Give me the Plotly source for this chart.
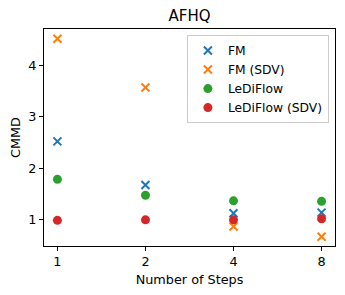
import plotly.graph_objects as go

steps = [1, 2, 4, 8]
fm = [2.52, 1.67, 1.12, 1.13]
fm_sdv = [4.52, 3.57, 0.86, 0.66]
lediflow = [1.78, 1.47, 1.36, 1.35]
lediflow_sdv = [0.98, 0.99, 0.99, 1.01]

series = [
    ("FM", fm, "#1f77b4", "x-thin"),
    ("FM (SDV)", fm_sdv, "#ff7f0e", "x-thin"),
    ("LeDiFlow", lediflow, "#2ca02c", "circle"),
    ("LeDiFlow (SDV)", lediflow_sdv, "#d62728", "circle"),
]

fig = go.Figure()
for name, vals, color, sym in series:
    if sym == "x-thin":
        marker = dict(symbol=sym, size=8, color=color, line=dict(color=color, width=2))
    else:
        marker = dict(symbol=sym, size=9, color=color, line=dict(width=0))
    fig.add_trace(go.Scatter(x=steps, y=vals, mode="markers", name=name, marker=marker))

font = "DejaVu Sans, sans-serif"
fs = 12.8
fig.update_layout(
    width=337, height=287,
    margin=dict(l=36, r=10, t=21, b=49),
    paper_bgcolor="white", plot_bgcolor="white",
    font=dict(family=font, size=fs, color="black"),
    title=dict(text="AFHQ", x=0.5, xref="paper", xanchor="center", yref="container",
               y=0.972, yanchor="middle",
               font=dict(size=15, family=font, color="black")),
    showlegend=True,
    legend=dict(x=0.979, y=0.972, xanchor="right", yanchor="top",
                bordercolor="#cccccc", borderwidth=1, bgcolor="rgba(255,255,255,0.8)",
                font=dict(size=12.3, family=font), itemwidth=30, tracegroupgap=0),
)
fig.update_xaxes(type="log", range=[-0.0458, 0.949], tickvals=steps, ticktext=[str(s) for s in steps],
                 showline=True, linecolor="black", linewidth=1, mirror=True, automargin=False,
                 ticks="outside", ticklen=4, tickcolor="black", showgrid=False, zeroline=False,
                 title=dict(text="Number of Steps", font=dict(size=fs), standoff=6))
fig.update_yaxes(range=[0.48, 4.71], tickvals=[1, 2, 3, 4],
                 showline=True, linecolor="black", linewidth=1, mirror=True, automargin=False,
                 ticks="outside", ticklen=4, tickcolor="black", showgrid=False, zeroline=False,
                 title=dict(text="CMMD", font=dict(size=fs), standoff=11))

fig.write_html("out.html")
